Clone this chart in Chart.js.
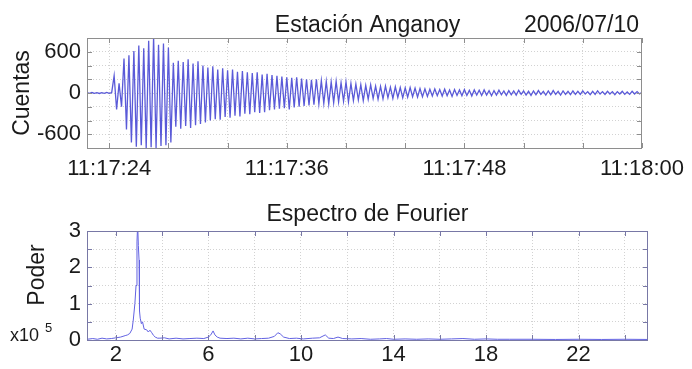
<!DOCTYPE html>
<html>
<head>
<meta charset="utf-8">
<script src="https://cdn.jsdelivr.net/npm/chart.js@4.4.0/dist/chart.umd.min.js"></script>
<style>
  body { margin: 0; background: #fff; }
  .wrap { position: absolute; left: 0; width: 692px; }
  #top { top: 0; height: 185px; }
  #bot { top: 185px; height: 184px; }
</style>
</head>
<body>
<div class="wrap" id="top"><canvas id="sismo" width="692" height="185"></canvas></div>
<div class="wrap" id="bot"><canvas id="fourier" width="692" height="184"></canvas></div>
<script>
'use strict';
// Sismograma de la estación Anganoy + espectro de Fourier del registro.
const FONT = '"Liberation Sans", Arial, sans-serif';
const INK = '#1a1a1a';

// Registro: segundos después de 11:17:00, una muestra cada 1/6 s
const T_INICIO = 22.5, DT = 1 / 6;
const CUENTAS = [
  4, -5, 7, -6, 5, -7, 6, -5, 8, -6, 5,                                   // 22.5 – 24.2 s
  250, -240, 140, -200,                                                    // llegada
  500, -530, 550, -720, 610, -780, 690, -760, 650, -800,
  760, -790, 820, -800, 700, -770, 720, -760, 660, -720,                   // 25 – 28.2 s
  440, -490, 470, -520, 450, -480, 490, -510, 430, -470, 460, -450,
  400, -430, 370, -400, 390, -380, 340, -390, 360, -350, 330, -360,
  340, -330, 310, -340, 320, -300, 300, -310, 290, -280, 300, -290, 270, -280,
  280, -250, 260, -240, 250, -230, 240, -220, 230, -240, 220, -210, 230, -200,
  210, -190, 200, -180, 190, -170, 200, -160, 180, -150,
  170, -160, 160, -140, 170, -130, 150, -120, 160, -130,                   // 37 – 40.2 s
  140, -110, 130, -100, 120, -110, 110, -90, 120, -80, 100, -90,
  95, -85, 100, -70, 85, -80, 90, -65, 80, -70, 75, -60, 80, -55, 70, -60, 65, -55,
  60, -50, 55, -45, 60, -40, 50, -45, 55, -40, 45, -50, 50, -35,
  45, -40, 50, -35, 40, -45, 45, -30, 40, -35, 45, -30, 35, -40,           // 45.3 – 49.8 s
  35, -30, 40, -25, 30, -35, 35, -25, 30, -30, 40, -20, 30, -30, 25, -35, 30,
  -25, 35, -20, 25, -30, 30, -25, 35, -20, 25, -30, 30, -20, 25, -25, 30, -20,
  25, -20, 30, -15, 20, -25, 25, -20, 30, -15, 20, -20, 25, -15,
  20, -25, 20, -15, 25, -20, 15, -20, 25, -15, 20, -15, 10                  // hasta 11:18:00
];
const T_TICKS = [24, 28, 32, 36, 40, 44, 48, 52, 56, 60];
const T_LABELS = { 24: '11:17:24', 36: '11:17:36', 48: '11:17:48', 60: '11:18:00' };
const C_TICKS = [-800, -600, -400, -200, 0, 200, 400, 600, 800];
const C_LABELS = [-600, 0, 600];

// Espectro: frecuencia (Hz) y potencia (x10^5)
const FREQ = [
  0.75, 1.0, 1.2, 1.4, 1.6, 1.8, 2.0, 2.2, 2.4, 2.5, 2.6, 2.7,
  2.75, 2.82, 2.87, 2.91, 2.94, 2.97, 3.0, 3.02, 3.05, 3.1, 3.15, 3.22,
  3.33, 3.4, 3.47, 3.55, 3.62, 3.7, 3.8, 3.9, 4.1, 4.3, 4.6, 4.9,
  5.2, 5.5, 5.8, 6.0, 6.1, 6.2, 6.28, 6.38, 6.5, 6.8, 7.1, 7.4,
  7.7, 8.0, 8.3, 8.6, 8.85, 9.0, 9.1, 9.25, 9.5, 9.8, 10.1, 10.5,
  10.8, 11.05, 11.2, 11.4, 11.6, 11.8, 12.2, 12.6, 13.0, 13.4, 13.7, 14.0,
  14.5, 15.0, 15.5, 16.0, 16.5, 17.0, 17.5, 18.0, 18.5, 19.0, 20.0, 21.0,
  22.0, 23.0, 24.0, 25.0
];
const PODER = [
  0.02, 0.04, 0.02, 0.05, 0.03, 0.04, 0.06, 0.08, 0.12, 0.14, 0.18, 0.3,
  0.55, 1.0, 1.5, 2.7, 3.2, 2.6, 2.2, 0.8, 0.6, 0.45, 0.5, 0.3,
  0.28, 0.22, 0.27, 0.2, 0.13, 0.08, 0.05, 0.05, 0.06, 0.03, 0.05, 0.03,
  0.04, 0.05, 0.04, 0.08, 0.14, 0.25, 0.14, 0.08, 0.05, 0.04, 0.05, 0.03,
  0.05, 0.03, 0.04, 0.05, 0.1, 0.2, 0.17, 0.08, 0.04, 0.05, 0.03, 0.05,
  0.06, 0.14, 0.05, 0.04, 0.08, 0.04, 0.03, 0.04, 0.02, 0.03, 0.04, 0.02,
  0.03, 0.02, 0.03, 0.02, 0.03, 0.04, 0.02, 0.03, 0.02, 0.02, 0.02, 0.015,
  0.02, 0.015, 0.02, 0.015
];
const F_TICKS = [2, 4, 6, 8, 10, 12, 14, 16, 18, 20, 22, 24];
const F_LABELS = [2, 6, 10, 14, 18, 22];
const P_TICKS = [0, 0.5, 1, 1.5, 2, 2.5, 3];
const P_LABELS = [0, 1, 2, 3];

// marco del eje con marcas hacia adentro (estilo matlab)
function marco(chart, color) {
  const { ctx, chartArea: a, scales: { x, y } } = chart;
  ctx.save();
  ctx.strokeStyle = color; ctx.lineWidth = 1;
  ctx.beginPath();
  x.ticks.forEach(t => {
    const px = Math.round(x.getPixelForValue(t.value)) + 0.5;
    ctx.moveTo(px, a.top); ctx.lineTo(px, a.top + 5);
    ctx.moveTo(px, a.bottom); ctx.lineTo(px, a.bottom - 5);
  });
  y.ticks.forEach(t => {
    const py = Math.round(y.getPixelForValue(t.value)) + 0.5;
    ctx.moveTo(a.left, py); ctx.lineTo(a.left + 5, py);
    ctx.moveTo(a.right, py); ctx.lineTo(a.right - 5, py);
  });
  ctx.stroke();
  ctx.strokeRect(Math.round(a.left) + 0.5, Math.round(a.top) + 0.5, Math.round(a.right - a.left) - 1, Math.round(a.bottom - a.top));
  ctx.restore();
}
function texto(ctx, s, x, y, size, align, rot) {
  ctx.save();
  ctx.font = `${size}px ${FONT}`;
  ctx.fillStyle = INK; ctx.textAlign = align || 'center'; ctx.textBaseline = rot ? 'middle' : 'alphabetic';
  ctx.translate(x, y); if (rot) ctx.rotate(rot);
  ctx.fillText(s, 0, 0);
  ctx.restore();
}
const fixTicks = list => s => { s.ticks = list.map(v => ({ value: v })); };
const ejes = (xr, yr, xH, xPad) => ({
  x: {
    type: 'linear', min: xr.min, max: xr.max, afterBuildTicks: fixTicks(xr.ticks),
    afterFit: s => { s.height = xH; },
    grid: { color: '#d2d2d2', drawTicks: false }, border: { display: false, dash: [1, 2] },
    ticks: { autoSkip: false, maxRotation: 0, padding: xPad, color: INK, font: { family: FONT, size: 22 }, callback: xr.label },
  },
  y: {
    type: 'linear', min: yr.min, max: yr.max, afterBuildTicks: fixTicks(yr.ticks),
    afterFit: s => { s.width = 87; },
    grid: { color: '#d2d2d2', drawTicks: false }, border: { display: false, dash: [1, 2] },
    ticks: { autoSkip: false, padding: 6, color: INK, font: { family: FONT, size: 22 }, callback: yr.label },
  },
});
const base = (padTop, scales) => ({
  responsive: false, animation: false, events: [],
  layout: { autoPadding: false, padding: { top: padTop, right: 44, left: 0, bottom: 0 } },
  plugins: { legend: { display: false }, tooltip: { enabled: false } },
  scales,
});

// sismograma
new Chart(document.getElementById('sismo'), {
  type: 'line',
  data: { datasets: [{ data: CUENTAS.map((c, i) => ({ x: T_INICIO + i * DT, y: c })), borderColor: '#5a5ad8', borderWidth: 1.3, pointRadius: 0, tension: 0 }] },
  options: base(38, ejes(
    { min: T_INICIO, max: 60, ticks: T_TICKS, label: v => T_LABELS[v] || '' },
    { min: -800, max: 800, ticks: C_TICKS, label: v => (C_LABELS.includes(v) ? String(v) : '') },
    37, 8)),
  plugins: [{
    id: 'rotulos', afterDraw(chart) {
      const a = chart.chartArea, ctx = chart.ctx;
      marco(chart, '#8e8e8e');
      texto(ctx, 'Estación Anganoy', (a.left + a.right) / 2 + 3, 32, 23);
      texto(ctx, '2006/07/10', a.right - 3, 32, 23, 'right');
      texto(ctx, 'Cuentas', 23, (a.top + a.bottom) / 2, 23, 'center', -Math.PI / 2);
    },
  }],
});

// espectro de Fourier
new Chart(document.getElementById('fourier'), {
  type: 'line',
  data: { datasets: [{ data: FREQ.map((f, i) => ({ x: f, y: PODER[i] })), borderColor: '#6262e2', borderWidth: 1, pointRadius: 0, tension: 0 }] },
  options: base(46, ejes(
    { min: 0.75, max: 25, ticks: F_TICKS, label: v => (F_LABELS.includes(v) ? String(v) : '') },
    { min: 0, max: 3, ticks: P_TICKS, label: v => (P_LABELS.includes(v) ? String(v) : '') },
    29, 2)),
  plugins: [{
    id: 'rotulos', afterDraw(chart) {
      const a = chart.chartArea, ctx = chart.ctx;
      marco(chart, '#7878a6');
      texto(ctx, 'Espectro de Fourier', (a.left + a.right) / 2, 221 - 185, 23);
      texto(ctx, 'Poder', 38, 275 - 185, 23, 'center', -Math.PI / 2);
      texto(ctx, 'x10', 10, 341 - 185, 18, 'left');
      texto(ctx, '5', 45, 332 - 185, 13, 'left');
    },
  }],
});
</script>
</body>
</html>
